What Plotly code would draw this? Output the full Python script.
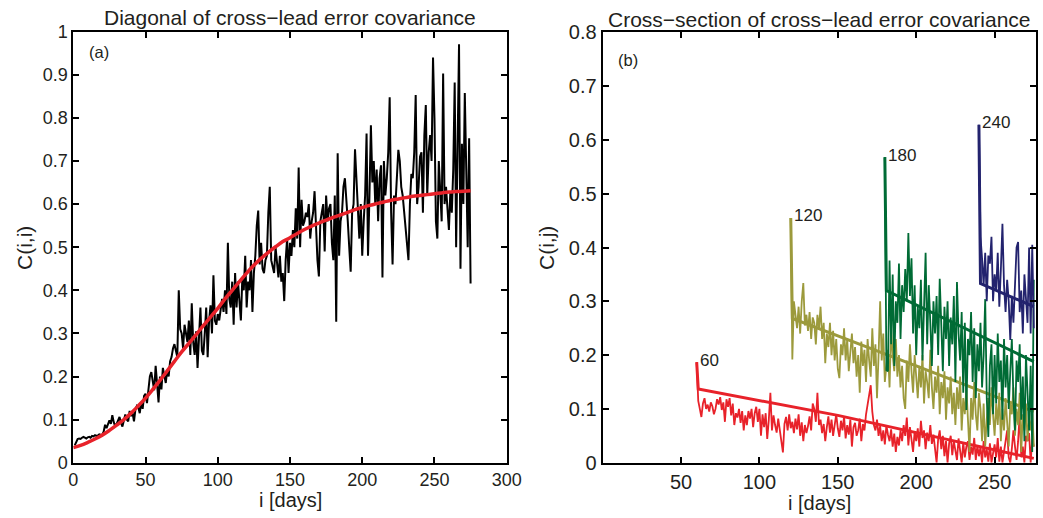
import plotly.graph_objects as go

# ---------------- data: panel (a) ----------------
diag_days = list(range(1, 276))
diag_vals = [
    0.040, 0.050, 0.055, 0.056, 0.055, 0.058, 0.060, 0.058, 0.056, 0.059,
    0.060, 0.058, 0.062, 0.061, 0.064, 0.062, 0.063, 0.066, 0.065, 0.064,
    0.072, 0.088, 0.080, 0.092, 0.098, 0.090, 0.110, 0.094, 0.085, 0.090,
    0.100, 0.106, 0.092, 0.084, 0.098, 0.112, 0.100, 0.096, 0.120, 0.108,
    0.116, 0.096, 0.124, 0.132, 0.128, 0.115, 0.140, 0.125, 0.155, 0.160,
    0.138, 0.175, 0.200, 0.210, 0.185, 0.168, 0.225, 0.190, 0.140, 0.200,
    0.170, 0.220, 0.205, 0.185, 0.215, 0.200, 0.235, 0.245, 0.265, 0.275,
    0.260, 0.245, 0.400, 0.310, 0.300, 0.265, 0.320, 0.300, 0.280, 0.330,
    0.250, 0.370, 0.280, 0.250, 0.305, 0.220, 0.290, 0.360, 0.260, 0.250,
    0.300, 0.360, 0.245, 0.330, 0.365, 0.300, 0.435, 0.330, 0.320, 0.345,
    0.330, 0.360, 0.380, 0.350, 0.400, 0.345, 0.510, 0.380, 0.360, 0.420,
    0.320, 0.440, 0.360, 0.420, 0.380, 0.330, 0.430, 0.400, 0.480, 0.360,
    0.420, 0.400, 0.470, 0.350, 0.440, 0.480, 0.550, 0.585, 0.460, 0.510,
    0.450, 0.440, 0.470, 0.480, 0.580, 0.640, 0.470, 0.450, 0.440, 0.500,
    0.460, 0.430, 0.480, 0.420, 0.440, 0.375, 0.470, 0.520, 0.440, 0.510,
    0.480, 0.540, 0.500, 0.590, 0.520, 0.685, 0.500, 0.610, 0.550, 0.560,
    0.580, 0.570, 0.600, 0.520, 0.560, 0.580, 0.630, 0.550, 0.470, 0.432,
    0.560, 0.580, 0.600, 0.490, 0.620, 0.560, 0.590, 0.600, 0.510, 0.470,
    0.620, 0.327, 0.718, 0.480, 0.560, 0.580, 0.640, 0.660, 0.620, 0.560,
    0.500, 0.443, 0.580, 0.600, 0.727, 0.650, 0.560, 0.520, 0.600, 0.480,
    0.560, 0.620, 0.764, 0.480, 0.620, 0.783, 0.650, 0.700, 0.600, 0.680,
    0.560, 0.660, 0.690, 0.430, 0.700, 0.620, 0.660, 0.720, 0.848, 0.580,
    0.460, 0.620, 0.600, 0.680, 0.726, 0.700, 0.640, 0.620, 0.580, 0.560,
    0.520, 0.470, 0.600, 0.670, 0.660, 0.720, 0.853, 0.600, 0.640, 0.710,
    0.720, 0.580, 0.760, 0.830, 0.620, 0.720, 0.760, 0.700, 0.940, 0.800,
    0.560, 0.520, 0.700, 0.640, 0.560, 0.903, 0.600, 0.640, 0.600, 0.540,
    0.630, 0.580, 0.680, 0.882, 0.500, 0.740, 0.971, 0.450, 0.740, 0.600,
    0.858, 0.680, 0.500, 0.753, 0.416,
]

fit_days = list(range(0, 276, 5))
fit_vals = [
    0.035, 0.040, 0.047, 0.055, 0.064, 0.075, 0.087, 0.100, 0.115, 0.132,
    0.150, 0.170, 0.191, 0.213, 0.235, 0.257, 0.277, 0.297, 0.318, 0.338,
    0.358, 0.380, 0.400, 0.420, 0.440, 0.458, 0.474, 0.488, 0.501, 0.513,
    0.522, 0.532, 0.541, 0.549, 0.556, 0.563, 0.569, 0.575, 0.581, 0.587,
    0.592, 0.597, 0.601, 0.605, 0.609, 0.612, 0.615, 0.618, 0.620, 0.622,
    0.624, 0.626, 0.628, 0.629, 0.630, 0.631,
]

# ---------------- data: panel (b) ----------------
lead_labels = ["60", "120", "180", "240"]
lead_starts = [60, 120, 180, 240]
lead_colors = ["#e8222a", "#9c9a3c", "#006b35", "#23236e"]

cs60 = [
    0.187,
    0.115, 0.100, 0.085, 0.110, 0.120, 0.100, 0.108, 0.095, 0.112, 0.105,
    0.090, 0.100, 0.118, 0.108, 0.122, 0.098, 0.112, 0.076, 0.118, 0.104,
    0.120, 0.088, 0.110, 0.070, 0.092, 0.084, 0.100, 0.074, 0.096, 0.060,
    0.088, 0.070, 0.096, 0.082, 0.100, 0.066, 0.092, 0.104, 0.076, 0.100,
    0.050, 0.090, 0.066, 0.092, 0.044, 0.080, 0.130, 0.060, 0.088, 0.070,
    0.056, 0.082, 0.064, 0.040, 0.019, 0.072, 0.085, 0.060, 0.090, 0.064,
    0.076, 0.055, 0.082, 0.062, 0.090, 0.050, 0.075, 0.040, 0.070, 0.055,
    0.068, 0.086, 0.060, 0.110, 0.100, 0.076, 0.130, 0.070, 0.080, 0.055,
    0.072, 0.040, 0.066, 0.086, 0.056, 0.080, 0.050, 0.072, 0.090, 0.064,
    0.048, 0.078, 0.060, 0.086, 0.045, 0.070, 0.052, 0.080, 0.030, 0.066,
    0.074, 0.050, 0.060, 0.082, 0.040, 0.072, 0.060, 0.090, 0.108, 0.120,
    0.144, 0.095, 0.070, 0.060, 0.080, 0.050, 0.068, 0.040, 0.060, 0.034,
    0.070, 0.052, 0.040, 0.062, 0.030, 0.054, 0.020, 0.048, 0.032, 0.060,
    0.040, 0.070, 0.050, 0.084, 0.032, 0.066, 0.045, 0.020, 0.058, 0.040,
    0.064, 0.030, 0.078, 0.046, 0.060, 0.025, 0.056, 0.040, 0.070, 0.035,
    0.052, 0.030, 0.000, 0.044, 0.060, 0.025, 0.050, 0.012, 0.040, 0.000,
    0.036, 0.050, 0.014, 0.040, 0.020, 0.005, 0.045, 0.022, 0.000, 0.038,
    0.010, 0.030, 0.040, 0.005, 0.030, 0.015, 0.046, 0.005, 0.032, 0.012,
    0.030, 0.000, 0.040, 0.010, 0.025, 0.002, 0.036, 0.000, 0.020, 0.034,
    0.010, 0.046, 0.002, 0.030, 0.000, 0.020, 0.036, 0.060, 0.010, 0.000,
    0.026, 0.060, 0.030, 0.005, 0.040, 0.092, 0.010, 0.030, 0.000, 0.050,
    0.040, 0.055, 0.000, 0.045, 0.030,
]

cs120 = [
    0.455,
    0.192, 0.300, 0.270, 0.250, 0.290, 0.240, 0.300, 0.334, 0.255, 0.275,
    0.245, 0.280, 0.230, 0.270, 0.260, 0.220, 0.275, 0.250, 0.290, 0.230,
    0.260, 0.185, 0.240, 0.215, 0.260, 0.200, 0.245, 0.190, 0.230, 0.175,
    0.157, 0.220, 0.200, 0.250, 0.190, 0.230, 0.170, 0.210, 0.240, 0.185,
    0.215, 0.160, 0.200, 0.130, 0.225, 0.180, 0.210, 0.150, 0.230, 0.190,
    0.160, 0.250, 0.180, 0.220, 0.120, 0.200, 0.300, 0.190, 0.240, 0.150,
    0.180, 0.210, 0.140, 0.250, 0.200, 0.170, 0.230, 0.160, 0.200, 0.140,
    0.180, 0.120, 0.100, 0.190, 0.150, 0.220, 0.170, 0.130, 0.200, 0.160,
    0.120, 0.180, 0.140, 0.200, 0.110, 0.170, 0.150, 0.120, 0.210, 0.140,
    0.100, 0.160, 0.130, 0.180, 0.090, 0.150, 0.120, 0.170, 0.080, 0.140,
    0.110, 0.160, 0.090, 0.130, 0.070, 0.140, 0.100, 0.160, 0.060, 0.120,
    0.090, 0.140, 0.070, 0.020, 0.120, 0.080, 0.150, 0.090, 0.060, 0.130,
    0.100, 0.040, 0.110, 0.030, 0.080, 0.120, 0.070, 0.140, 0.090, 0.050,
    0.110, 0.070, 0.130, 0.040, 0.100, 0.060, 0.120, 0.080, 0.030, 0.110,
    0.090, 0.140, 0.050, 0.100, 0.070, 0.130, 0.020, 0.090, 0.060, 0.110,
    0.040, 0.080, 0.060, 0.100, 0.030,
]

cs180 = [
    0.568,
    0.172, 0.170, 0.376, 0.220, 0.350, 0.180, 0.300, 0.260, 0.370, 0.230,
    0.330, 0.280, 0.360, 0.300, 0.427, 0.310, 0.380, 0.240, 0.330, 0.200,
    0.290, 0.250, 0.340, 0.190, 0.300, 0.390, 0.220, 0.330, 0.260, 0.180,
    0.300, 0.240, 0.310, 0.200, 0.342, 0.260, 0.170, 0.290, 0.230, 0.300,
    0.180, 0.270, 0.220, 0.310, 0.150, 0.336, 0.240, 0.190, 0.280, 0.130,
    0.260, 0.098, 0.230, 0.200, 0.280, 0.150, 0.250, 0.120, 0.220, 0.170,
    0.260, 0.140, 0.200, 0.304, 0.120, 0.048, 0.180, 0.220, 0.090, 0.200,
    0.110, 0.240, 0.150, 0.190, 0.080, 0.230, 0.140, 0.200, 0.100, 0.170,
    0.230, 0.120, 0.060, 0.190, 0.150, 0.220, 0.080, 0.160, 0.040, 0.200,
    0.120, 0.060, 0.180, 0.020, 0.340,
]

cs240 = [
    0.628, 0.420,
    0.380, 0.330, 0.390, 0.300, 0.385, 0.370, 0.420, 0.300, 0.350,
    0.320, 0.390, 0.290, 0.360, 0.444, 0.330, 0.280, 0.340, 0.300, 0.228,
    0.310, 0.260, 0.340, 0.400, 0.410, 0.280, 0.320, 0.240, 0.350, 0.300,
    0.260, 0.400, 0.240, 0.405, 0.250,
]

# fitted lines for panel (b): peak day, first fit day, ..., last day
fit60_days = [60, 61, 150, 275]
fit60_vals = [0.187, 0.137, 0.088, 0.008]
fit120_days = [120, 121, 200, 275]
fit120_vals = [0.455, 0.268, 0.180, 0.095]
fit180_days = [180, 181, 275]
fit180_vals = [0.568, 0.320, 0.188]
fit240_days = [240, 241, 275]
fit240_vals = [0.628, 0.333, 0.290]

cross_series = [cs60, cs120, cs180, cs240]
fit_series = [(fit60_days, fit60_vals), (fit120_days, fit120_vals),
              (fit180_days, fit180_vals), (fit240_days, fit240_vals)]

# ---------------- figure ----------------
W, H = 1043, 518
FONT = "Liberation Sans, Arial, Helvetica, sans-serif"
TXT = "#231f20"

def px(x):
    return x / W

def py(y):
    return 1 - y / H

fig = go.Figure()

fig.add_trace(go.Scatter(x=diag_days, y=diag_vals, mode="lines",
                         line=dict(color="black", width=2),
                         xaxis="x", yaxis="y", showlegend=False))
fig.add_trace(go.Scatter(x=fit_days, y=fit_vals, mode="lines",
                         line=dict(color="#e8222a", width=3.5, shape="spline"),
                         xaxis="x", yaxis="y", showlegend=False))

for start, vals, color, (fd, fv) in zip(lead_starts, cross_series, lead_colors, fit_series):
    days = list(range(start, start + len(vals)))
    fig.add_trace(go.Scatter(x=days, y=vals, mode="lines",
                             line=dict(color=color, width=1.8),
                             xaxis="x2", yaxis="y2", showlegend=False))
    fig.add_trace(go.Scatter(x=fd, y=fv, mode="lines",
                             line=dict(color=color, width=3),
                             xaxis="x2", yaxis="y2", showlegend=False))

def axis(size, **kw):
    d = dict(showline=True, linecolor="black", linewidth=2, mirror="ticks",
             ticks="inside", ticklen=6, tickwidth=1.5, tickcolor="black",
             showgrid=False, zeroline=False, automargin=False,
             tickfont=dict(family=FONT, color=TXT, size=size))
    d.update(kw)
    return d

fig.update_layout(
    width=W, height=H,
    margin=dict(l=0, r=0, t=0, b=0, pad=0, autoexpand=False),
    paper_bgcolor="white", plot_bgcolor="white",
    xaxis=axis(18, domain=[px(73.3), px(506.7)], range=[0, 300],
               tickvals=[0, 50, 100, 150, 200, 250, 300], anchor="y"),
    yaxis=axis(18, domain=[py(462.7), py(31.7)], range=[0, 1], dtick=0.1, tick0=0, anchor="x"),
    xaxis2=axis(20, domain=[px(602.6), px(1036)], range=[0, 276.4],
                tickvals=[50, 100, 150, 200, 250], anchor="y2"),
    yaxis2=axis(20, domain=[py(462.7), py(32.3)], range=[0, 0.8], dtick=0.1, tick0=0, anchor="x2"),
)

ann = []
# titles
ann.append(dict(text="Diagonal of cross\u2212lead error covariance", x=px(290), y=py(17),
                xref="paper", yref="paper", xanchor="center", yanchor="middle", showarrow=False,
                font=dict(family=FONT, size=21, color=TXT)))
ann.append(dict(text="Cross\u2212section of cross\u2212lead error covariance", x=px(819.5), y=py(19),
                xref="paper", yref="paper", xanchor="center", yanchor="middle", showarrow=False,
                font=dict(family=FONT, size=21, color=TXT)))
# axis titles
ann.append(dict(text="i [days]", x=px(290), y=py(500), xref="paper", yref="paper",
                xanchor="center", yanchor="middle", showarrow=False,
                font=dict(family=FONT, size=20, color=TXT)))
ann.append(dict(text="i [days]", x=px(819.5), y=py(503), xref="paper", yref="paper",
                xanchor="center", yanchor="middle", showarrow=False,
                font=dict(family=FONT, size=20, color=TXT)))
ann.append(dict(text="C(i,i)", x=px(25), y=py(248), xref="paper", yref="paper", textangle=-90,
                xanchor="center", yanchor="middle", showarrow=False,
                font=dict(family=FONT, size=21, color=TXT)))
ann.append(dict(text="C(i,j)", x=px(547), y=py(248), xref="paper", yref="paper", textangle=-90,
                xanchor="center", yanchor="middle", showarrow=False,
                font=dict(family=FONT, size=21, color=TXT)))
# panel labels
ann.append(dict(text="(a)", x=px(87), y=py(52), xref="paper", yref="paper",
                xanchor="left", yanchor="middle", showarrow=False,
                font=dict(family=FONT, size=16.5, color=TXT)))
ann.append(dict(text="(b)", x=px(616), y=py(60), xref="paper", yref="paper",
                xanchor="left", yanchor="middle", showarrow=False,
                font=dict(family=FONT, size=16.5, color=TXT)))
# lead labels
for lab, start, vals in zip(lead_labels, lead_starts, cross_series):
    ann.append(dict(text=lab, x=start, y=vals[0], xref="x2", yref="y2",
                    xanchor="left", yanchor="middle", xshift=1, yshift=2, showarrow=False,
                    font=dict(family=FONT, size=17, color=TXT)))

fig.update_layout(annotations=ann)
fig.write_html("out.html")
